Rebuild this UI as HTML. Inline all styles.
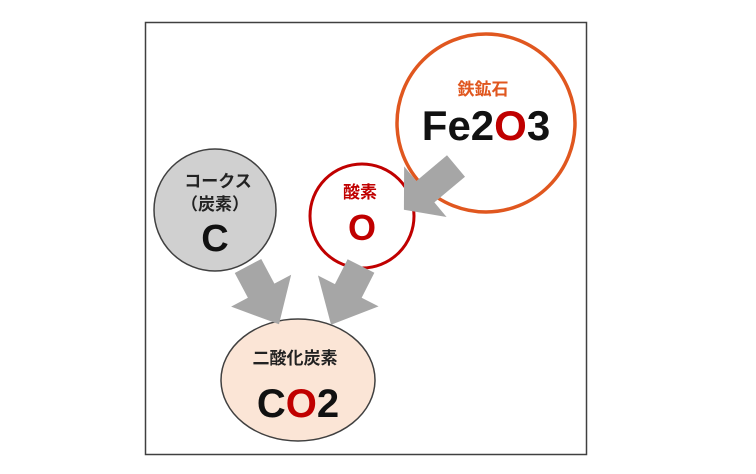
<!DOCTYPE html>
<html><head><meta charset="utf-8"><style>
html,body{margin:0;padding:0;background:#fff;}
svg{display:block;}
text{font-family:"Liberation Sans","Noto Sans CJK JP",sans-serif;font-weight:bold;}
</style></head><body>
<svg width="756" height="474" viewBox="0 0 756 474">
<rect x="145.5" y="22.5" width="441" height="432" fill="#fff" stroke="#404040" stroke-width="1.5"/>
<circle cx="486" cy="123" r="89" fill="#fff" stroke="#e0571f" stroke-width="3.5"/>
<circle cx="362" cy="216" r="52" fill="#fff" stroke="#c00000" stroke-width="3"/>
<circle cx="215" cy="210" r="61" fill="#d0d0d0" stroke="#404040" stroke-width="1.5"/>
<ellipse cx="298" cy="380" rx="77" ry="61" fill="#fbe5d6" stroke="#404040" stroke-width="1.5"/>
<g fill="#a6a6a6">
<g transform="translate(456,166) rotate(140)"><polygon points="0,-14 40,-14 40,-33 68,0 40,33 40,14 0,14"/></g>
<g transform="translate(248,266) rotate(62)"><polygon points="0,-15 28,-15 28,-34 66,0 28,34 28,15 0,15"/></g>
<g transform="translate(361,266) rotate(117)"><polygon points="0,-15 28,-15 28,-34 66,0 28,34 28,15 0,15"/></g>
</g>
<text x="483" y="95" font-size="17" fill="#e0571f" text-anchor="middle">鉄鉱石</text>
<text x="486" y="140" font-size="42" fill="#111" text-anchor="middle">Fe2<tspan fill="#c00000">O</tspan>3</text>
<text x="360" y="198" font-size="17" fill="#c00000" text-anchor="middle">酸素</text>
<text x="362" y="240" font-size="36" fill="#c00000" text-anchor="middle">O</text>
<text x="218" y="187" font-size="17" fill="#222" text-anchor="middle">コークス</text>
<text x="215" y="210" font-size="17" fill="#222" text-anchor="middle">（炭素）</text>
<text x="215" y="251" font-size="38" fill="#111" text-anchor="middle">C</text>
<text x="295" y="364" font-size="17" fill="#222" text-anchor="middle">二酸化炭素</text>
<text x="298" y="417" font-size="40" fill="#111" text-anchor="middle">C<tspan fill="#c00000">O</tspan>2</text>
</svg>
</body></html>
